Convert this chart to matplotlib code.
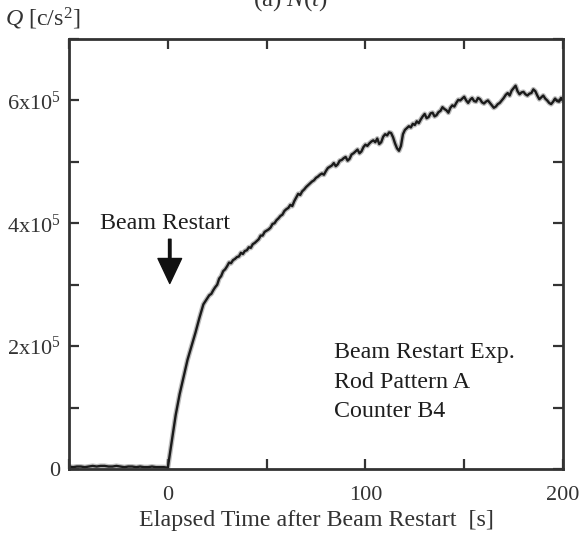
import numpy as np
import matplotlib
matplotlib.use('Agg')
import matplotlib.pyplot as plt
from matplotlib.ticker import FixedLocator, FixedFormatter

plt.rcParams['font.family'] = ['Liberation Serif', 'DejaVu Serif']
plt.rcParams['mathtext.fontset'] = 'custom'
plt.rcParams['mathtext.rm'] = 'Liberation Serif'
plt.rcParams['mathtext.it'] = 'Liberation Serif:italic'

# contagem Q (em 1e3 c/s^2): a cada 2 s ate 18 s, depois a cada 1 s ate 200 s
tempo = np.concatenate([np.arange(-50, 20, 2), np.arange(20, 201, 1)])
contagem_k = [
    # -50 .. 0
    4, 3, 4, 4, 3, 4, 5, 4, 5, 5, 4, 4, 5, 4, 3, 4, 4, 3, 4, 3, 3, 4, 3, 3, 3, 2,
    # 2 .. 18
    45, 88, 122, 150, 178, 200, 222, 246, 268,
    # 20 .. 200
    278, 283, 285, 291, 296, 300, 310, 314, 322, 325,
    330, 336, 335, 340, 342, 345, 346, 352, 350, 355,
    356, 361, 360, 366, 368, 371, 374, 380, 380, 386,
    388, 390, 393, 399, 400, 405, 408, 412, 414, 420,
    423, 425, 430, 428, 436, 442, 448, 446, 452, 455,
    459, 462, 465, 468, 470, 474, 476, 479, 481, 479,
    485, 490, 492, 494, 498, 493, 496, 502, 503, 506,
    508, 502, 505, 512, 514, 517, 520, 514, 517, 524,
    528, 526, 530, 533, 535, 532, 538, 529, 532, 541,
    545, 543, 548, 547, 540, 530, 522, 518, 526, 545,
    552, 555, 558, 556, 562, 560, 566, 563, 569, 574,
    578, 571, 573, 579, 580, 574, 576, 581, 583, 589,
    586, 584, 580, 588, 592, 590, 596, 601, 600, 603,
    606, 600, 596, 601, 604, 599, 598, 604, 602, 597,
    595, 598, 600, 596, 592, 588, 590, 594, 596, 600,
    604, 609, 612, 608, 616, 620, 624, 615, 610, 613,
    614, 610, 608, 611, 612, 618, 615, 608, 602, 605,
    608, 603, 600, 596, 594, 598, 603, 599, 598, 604,
    600,
]
contagem = np.array(contagem_k) * 1e3

x_ticks = [-50, 0, 50, 100, 150, 200]
x_rotulos = ['', '0', '', '100', '', '200']
y_ticks = [0, 1e5, 2e5, 3e5, 4e5, 5e5, 6e5, 7e5]
y_rotulos = ['0', '', '2x10$^5$', '', '4x10$^5$', '', '6x10$^5$', '']

cor = '#333333'
fs = 17.3

fig = plt.figure(figsize=(5.82, 5.36), dpi=100)
ax = fig.add_axes([69 / 582, 1 - 469 / 536, (563 - 69) / 582, (469 - 39) / 536])

ax.plot(tempo, contagem, color='#888888', lw=3.6, alpha=0.55)
ax.plot(tempo, contagem, color='#1a1a1a', lw=1.7)

ax.set_xlim(-50, 200)
ax.set_ylim(0, 7e5)

ax.xaxis.set_major_locator(FixedLocator(x_ticks))
ax.xaxis.set_major_formatter(FixedFormatter(x_rotulos))
ax.yaxis.set_major_locator(FixedLocator(y_ticks))
ax.yaxis.set_major_formatter(FixedFormatter(y_rotulos))
ax.tick_params(direction='in', length=7, width=1.6, color=cor, labelsize=16,
               labelcolor=cor, top=True, right=True, pad=6)
ax.tick_params(axis='x', pad=12)
for s in ax.spines.values():
    s.set_linewidth(2)
    s.set_color(cor)

ax.set_xlabel('Elapsed Time after Beam Restart  [s]', fontsize=fs, color=cor, labelpad=4)

# seta indicando o reinicio do feixe
ax.annotate('', xy=(1, 3.02e5), xytext=(1, 3.74e5),
            arrowprops=dict(width=1.8, headwidth=17, headlength=18, shrink=0,
                            color='#111111'))
ax.text(-1.5, 4.0e5, 'Beam Restart', ha='center', va='center', fontsize=fs, color='#1e1e1e')

ax.text(84, 2.07e5, 'Beam Restart Exp.\nRod Pattern A\nCounter B4', ha='left', va='top',
        fontsize=fs, color='#1e1e1e', linespacing=1.55)

fig.text(5 / 582, 1 - 19 / 536, '$Q$ [c/s$^2$]', ha='left', va='center', fontsize=fs, color=cor)
fig.text(0.5, 1 - 6 / 536, '(a) $N(t)$', ha='center', va='baseline', fontsize=18, color=cor)

plt.savefig('out.png', dpi=100)
plt.close()
